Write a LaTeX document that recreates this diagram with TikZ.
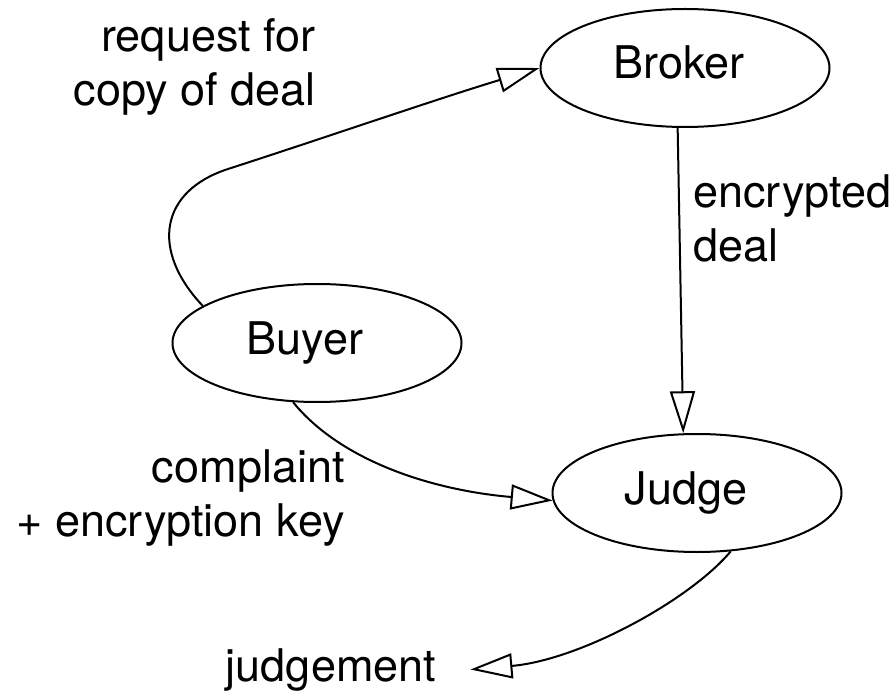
\documentclass[tikz,border=0pt]{standalone}
\usepackage{fontspec}
\setmainfont{TeX Gyre Heros}
\usetikzlibrary{arrows.meta,shapes.geometric}
\begin{document}
\begin{tikzpicture}[x=0.5pt,y=-0.5pt,
  every node/.style={font=\fontsize{22.5pt}{27pt}\selectfont},
  party/.style={ellipse,draw,line width=1pt,minimum width=144.5pt,minimum height=59pt,
    inner sep=0pt,text height=16pt,text depth=5pt},
  tag/.style={inner sep=0pt},
  flow/.style={line width=1pt,-{Triangle[open,length=21pt,width=12.5pt]}}]
\useasboundingbox (0,0) rectangle (894,695);

% parties
\node[party] (broker) at (685,68)  {\kern-6pt Broker};
\node[party] (buyer)  at (317,343) {\kern-12pt Buyer};
\node[party] (judge)  at (697,493) {\kern-11pt Judge};
\node[tag, anchor=base, inner xsep=17pt] (judgement) at (331,681) {judgement};

% edge labels
\node[tag, anchor=east, align=right] (reqlbl) at (316,67) {request for\\copy of deal};
\node[tag, anchor=west, align=left] (enclbl) at (693,218.5) {encrypted\\deal};
\node[tag, anchor=east, align=right] (cmplbl) at (345,498) {complaint\\+ encryption key};

% messages
\draw[flow] (buyer.162) .. controls (150,250) and (160,191) .. (228,169)
  .. controls (330,136) and (440,98) .. (broker.180);
\draw[flow] (broker.-97) -- (judge.103);
\draw[flow] (buyer.-112) .. controls (340,460) and (430,490) .. (judge.183);
\draw[flow] (judge.-60) .. controls (690,600) and (580,660) .. (judgement.east);
\end{tikzpicture}
\end{document}
